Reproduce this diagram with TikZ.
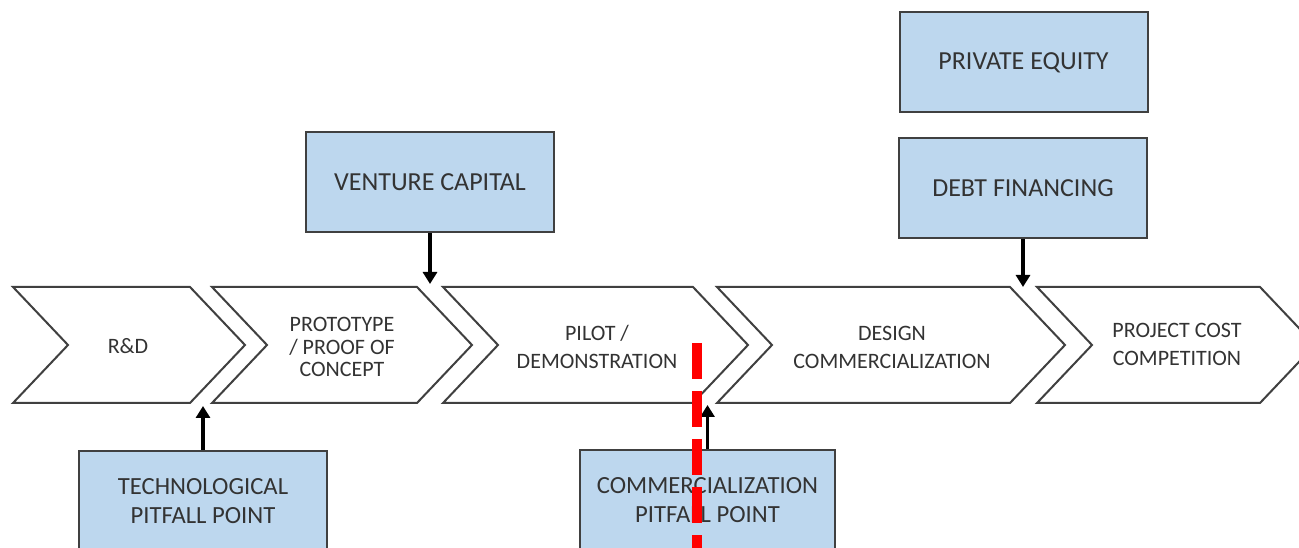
\documentclass[tikz,border=0pt]{standalone}
\usepackage{fontspec}
\setmainfont{Carlito}
\usetikzlibrary{arrows.meta}
\definecolor{boxfill}{HTML}{BDD7EE}
\definecolor{edge}{HTML}{404040}
\definecolor{ink}{HTML}{333333}
\begin{document}
\begin{tikzpicture}[x=0.75pt,y=-0.75pt,
  stage/.style={draw=edge, line width=1.5pt, fill=white, line join=miter},
  stagetext/.style={align=center, font=\fontsize{16.5}{21}\selectfont, text=ink},
  fundbox/.style={draw=edge, line width=1.5pt, fill=boxfill, minimum width=186pt,
    minimum height=75pt, align=center, font=\fontsize{19.5}{22}\selectfont, text=ink},
  pitbox/.style={fundbox, font=\fontsize{18.5}{22}\selectfont},
  feed/.style={line width=2.4pt, -{Triangle[width=10.5pt,length=9pt]}},
  cut/.style={red, line width=8pt, dash pattern=on 27pt off 9pt}]
\useasboundingbox (0,0) rectangle (1299,548);
\clip (0,0) rectangle (1299,548);

% chevron stages: left edge L, top-right corner R, point depth 55
\foreach \L/\R in {13/190, 212/417, 443/693, 717/1010, 1037/1260}{
  \draw[stage] (\L,287) -- (\R,287) -- (\R+55,345) -- (\R,403) -- (\L,403)
    -- (\L+55,345) -- cycle;
}
\node[stagetext] (rd)    at (128,346) {R\&D};
\node[stagetext, font=\fontsize{16.5}{17}\selectfont] (proto) at (342,347) {PROTOTYPE\\/ PROOF OF\\CONCEPT};
\node[stagetext] (pilot) at (597,347) {PILOT /\\DEMONSTRATION};
\node[stagetext] (design) at (892,347) {DESIGN\\COMMERCIALIZATION};
\node[stagetext] (cost)  at (1177,344) {PROJECT COST\\COMPETITION};

% funding sources and pitfall points
\node[fundbox] (vc)   at (430,182.5)  {VENTURE CAPITAL};
\node[fundbox] (pe)   at (1023.5,62.5) {PRIVATE EQUITY};
\node[fundbox] (debt) at (1023,188)    {DEBT FINANCING};
\node[pitbox] (tech) at (203,501)     {TECHNOLOGICAL\\PITFALL POINT};
\node[pitbox, minimum width=191pt] (comm) at (707.5,500) {COMMERCIALIZATION\\PITFALL POINT};

% arrow ends at the gaps between stages
\coordinate (gapA) at (430,284);
\coordinate (gapB) at (1023,287);
\coordinate (gapC) at (203,406);
\coordinate (gapD) at (707,405);

\draw[feed] (vc.south)   -- (vc.south |- gapA);
\draw[feed] (debt.south) -- (debt.south |- gapB);
\draw[feed] (tech.north) -- (tech.north |- gapC);
\draw[feed] (comm.north) -- (comm.north |- gapD);

% cut line
\coordinate (cutTop) at (697,343);
\coordinate (cutEnd) at (697,560);
\draw[cut] (cutTop) -- (cutEnd);
\end{tikzpicture}
\end{document}
